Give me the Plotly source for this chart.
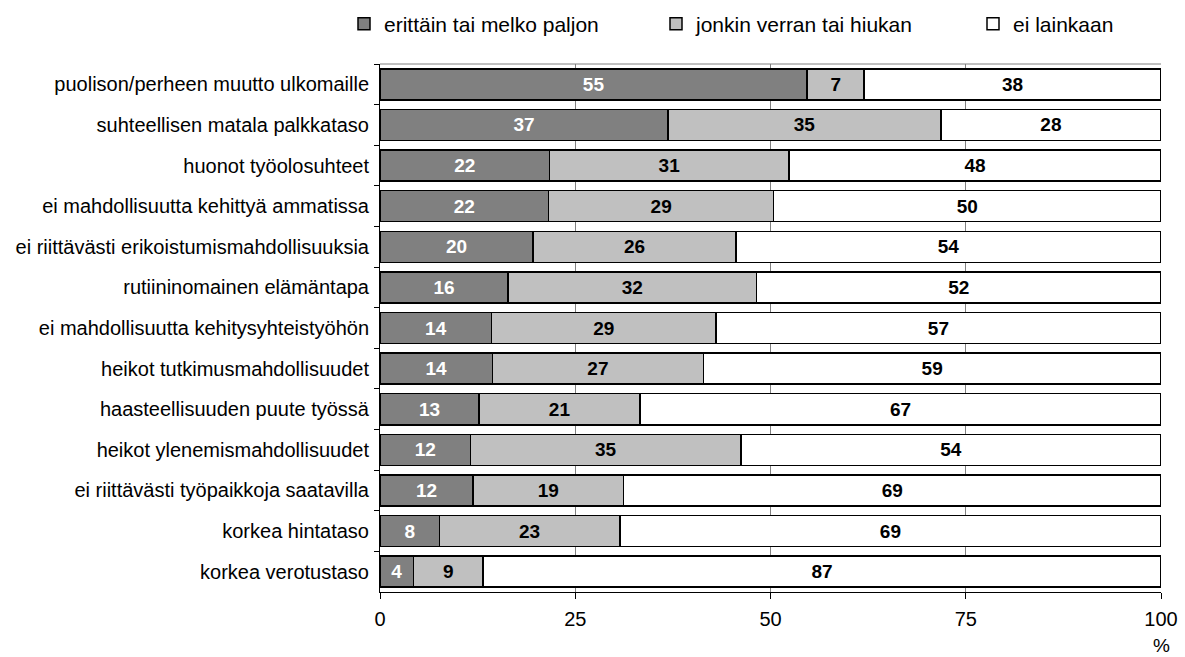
import plotly.graph_objects as go

# Reasons for leaving, share of respondents (%)
categories = [
    "puolison/perheen muutto ulkomaille",
    "suhteellisen matala palkkataso",
    "huonot työolosuhteet",
    "ei mahdollisuutta kehittyä ammatissa",
    "ei riittävästi erikoistumismahdollisuuksia",
    "rutiininomainen elämäntapa",
    "ei mahdollisuutta kehitysyhteistyöhön",
    "heikot tutkimusmahdollisuudet",
    "haasteellisuuden puute työssä",
    "heikot ylenemismahdollisuudet",
    "ei riittävästi työpaikkoja saatavilla",
    "korkea hintataso",
    "korkea verotustaso",
]
paljon = [54.7, 36.9, 21.7, 21.6, 19.6, 16.4, 14.3, 14.4, 12.7, 11.6, 11.9, 7.6, 4.3]
hiukan = [7.3, 34.9, 30.7, 28.8, 26.0, 31.8, 28.7, 27.0, 20.6, 34.6, 19.3, 23.1, 8.9]
ei_lainkaan = [38.0, 28.2, 47.6, 49.6, 54.4, 51.8, 57.0, 58.6, 66.7, 53.8, 68.8, 69.3, 86.8]

series_names = ["erittäin tai melko paljon", "jonkin verran tai hiukan", "ei lainkaan"]
x_ticks = [0, 25, 50, 75, 100]

FONT = "Liberation Sans, Arial, sans-serif"

W, H = 1185, 657
M_L, M_R, M_T, M_B = 380, 24, 64, 65
PLOT_W = W - M_L - M_R
PLOT_H = H - M_T - M_B


def px_to_paper_x(px):
    return (px - M_L) / PLOT_W


def px_to_paper_y(py):
    return (H - M_B - py) / PLOT_H


fig = go.Figure()
series = [
    (series_names[0], paljon, "#808080", "white", "legend"),
    (series_names[1], hiukan, "#C0C0C0", "black", "legend2"),
    (series_names[2], ei_lainkaan, "#FFFFFF", "black", "legend3"),
]
for name, vals, fill, txt, leg in series:
    fig.add_trace(go.Bar(
        y=categories,
        x=vals,
        name=name,
        orientation="h",
        legend=leg,
        marker=dict(color=fill, line=dict(color="black", width=1.5)),
        text=[f"{v:.0f}" for v in vals],
        textposition="inside",
        insidetextanchor="middle",
        textangle=0,
        textfont=dict(family=FONT, size=19, color=txt, weight="bold"),
        hoverinfo="skip",
    ))

# one legend box per series so each entry sits at its own place in the header
legend_left_px = [344, 656, 973]
legend_common = dict(
    orientation="h",
    xanchor="left",
    yanchor="middle",
    y=px_to_paper_y(24),
    font=dict(family=FONT, size=21, color="black"),
    bgcolor="rgba(0,0,0,0)",
    itemwidth=30,
)

fig.update_layout(
    barmode="stack",
    bargap=0.236,
    width=W,
    height=H,
    margin=dict(l=M_L, r=M_R, t=M_T, b=M_B, autoexpand=False),
    paper_bgcolor="white",
    plot_bgcolor="white",
    font=dict(family=FONT, size=20, color="black"),
    uniformtext=dict(minsize=19, mode="show"),
    showlegend=True,
    legend=dict(x=px_to_paper_x(legend_left_px[0]), **legend_common),
    legend2=dict(x=px_to_paper_x(legend_left_px[1]), **legend_common),
    legend3=dict(x=px_to_paper_x(legend_left_px[2]), **legend_common),
    xaxis=dict(
        range=[0, 100],
        tickvals=x_ticks,
        ticktext=[str(t) for t in x_ticks],
        showgrid=True,
        gridcolor="#808080",
        gridwidth=1,
        zeroline=False,
        showline=True,
        linecolor="black",
        linewidth=1,
        ticks="outside",
        ticklen=6,
        tickcolor="black",
        tickfont=dict(family=FONT, size=20, color="black"),
        ticklabelstandoff=3,
        automargin=False,
        fixedrange=True,
    ),
    yaxis=dict(
        autorange="reversed",
        showline=True,
        linecolor="black",
        linewidth=1,
        ticks="outside",
        tickson="boundaries",
        ticklen=5,
        tickcolor="black",
        showgrid=False,
        tickfont=dict(family=FONT, size=20, color="black"),
        ticklabelstandoff=6,
        automargin=False,
        fixedrange=True,
    ),
    shapes=[
        dict(type="line", xref="paper", yref="paper", x0=0, x1=1, y0=1, y1=1,
             line=dict(color="#808080", width=1)),
    ],
    annotations=[
        dict(text="%", xref="paper", yref="paper", x=1, y=px_to_paper_y(645),
             xanchor="center", yanchor="middle", showarrow=False,
             font=dict(family=FONT, size=19, color="black")),
    ],
)

fig.write_html("out.html")
